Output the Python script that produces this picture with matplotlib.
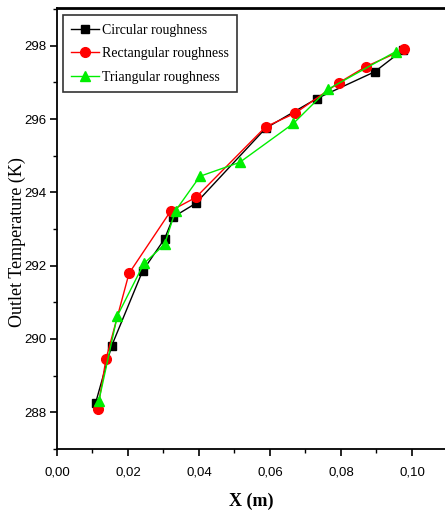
import matplotlib.pyplot as plt
from matplotlib.ticker import MultipleLocator, FuncFormatter
from matplotlib import font_manager

# data
x_circ = [0.0109, 0.0154, 0.0241, 0.0303, 0.0328, 0.0391, 0.0588, 0.0732, 0.0895, 0.0974]
t_circ = [288.26, 289.81, 291.85, 292.73, 293.33, 293.70, 295.75, 296.56, 297.29, 297.88]

x_rect = [0.0115, 0.0138, 0.0203, 0.0321, 0.0391, 0.0588, 0.0671, 0.0794, 0.0870, 0.0978]
t_rect = [288.10, 289.45, 291.79, 293.50, 293.86, 295.79, 296.16, 296.99, 297.43, 297.90]

x_tri = [0.0118, 0.0170, 0.0245, 0.0303, 0.0334, 0.0403, 0.0515, 0.0666, 0.0763, 0.0954]
t_tri = [288.31, 290.63, 292.06, 292.58, 293.50, 294.44, 294.82, 295.88, 296.81, 297.84]

names = [f.name for f in font_manager.fontManager.ttflist]
tick_font = 'Liberation Sans Narrow' if 'Liberation Sans Narrow' in names else 'Liberation Sans'
serif = 'Liberation Serif'

fig = plt.figure(figsize=(4.45, 5.16), dpi=100)
ax = fig.add_axes([0.128, 0.130, 0.872, 0.8545])

ax.plot(x_circ, t_circ, '-s', color='black', mfc='black', mec='black', ms=6, lw=1,
        label='Circular roughness')
ax.plot(x_rect, t_rect, '-o', color='red', mfc='red', mec='red', ms=7, lw=1,
        label='Rectangular roughness')
ax.plot(x_tri, t_tri, '-^', color='#00ee00', mfc='#00ee00', mec='#00ee00', ms=7, lw=1,
        label='Triangular roughness')

ax.set_xlim(0, 0.1093)
ax.set_ylim(287, 299.03)
ax.xaxis.set_major_locator(MultipleLocator(0.02))
ax.xaxis.set_minor_locator(MultipleLocator(0.01))
ax.yaxis.set_major_locator(MultipleLocator(2))
ax.yaxis.set_minor_locator(MultipleLocator(1))
ax.xaxis.set_major_formatter(FuncFormatter(lambda v, p: ('%.2f' % v).replace('.', ',')))
ax.yaxis.set_major_formatter(FuncFormatter(lambda v, p: '%d' % v))

ax.tick_params(which='both', direction='out', top=False, right=False)
ax.tick_params(which='major', length=5, width=1.2)
ax.tick_params(which='minor', length=3, width=1)
ax.tick_params(axis='x', which='major', pad=8)
ax.tick_params(axis='y', which='major', pad=2.5)
for lab in ax.get_xticklabels() + ax.get_yticklabels():
    lab.set_family(tick_font)
    lab.set_fontsize(9.5)

ax.spines['right'].set_visible(False)
ax.spines['top'].set_linewidth(2)
ax.spines['left'].set_linewidth(1.3)
ax.spines['bottom'].set_linewidth(1.3)

ax.set_ylabel('Outlet Temperature (K)', family=serif, fontsize=13)
ax.yaxis.set_label_coords(-0.079, 0.47)
ax.set_xlabel('X (m)', family=serif, fontsize=13, fontweight='bold', labelpad=10)

leg = ax.legend(loc='upper left', bbox_to_anchor=(0.015, 0.983), prop={'family': serif, 'size': 10},
                fancybox=False, edgecolor='#333333', framealpha=1, handlelength=2.0,
                handletextpad=0.2, borderpad=0.6, labelspacing=0.75, borderaxespad=0)
leg.get_frame().set_linewidth(1.2)

fig.savefig('out.png', dpi=100)
